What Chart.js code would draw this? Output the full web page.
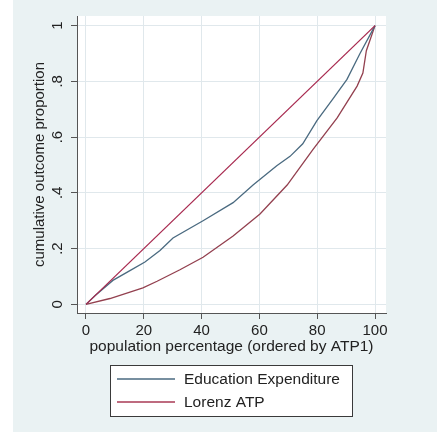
<!DOCTYPE html>
<html>
<head>
<meta charset="utf-8">
<script src="https://cdn.jsdelivr.net/npm/chart.js@4/dist/chart.umd.min.js"></script>
<style>
  html, body { margin: 0; padding: 0; background: #ffffff; }
  canvas { display: block; }
</style>
</head>
<body>
<canvas id="c" width="437" height="432"></canvas>
<script>
// ---- data ----
const eduX = [0, 3.1, 9.3, 15.2, 20.4, 25.6, 30.1, 40.5, 50.9, 57.8, 66, 70.6, 75, 79.9, 85.5, 90.3, 94.8, 100];
const eduY = [0, 0.031, 0.086, 0.121, 0.152, 0.193, 0.238, 0.30, 0.365, 0.428, 0.497, 0.531, 0.576, 0.659, 0.738, 0.807, 0.90, 1];

const atpX = [0, 8.3, 19.7, 24.6, 32.5, 40.5, 50.9, 60.2, 69.6, 78.5, 86.9, 93.8, 95.8, 97, 100];
const atpY = [0, 0.021, 0.059, 0.083, 0.124, 0.169, 0.245, 0.324, 0.428, 0.555, 0.669, 0.783, 0.83, 0.91, 1];

const eqX = [0, 100];
const eqY = [0, 1];

const xTickValues = [0, 20, 40, 60, 80, 100];
const xTickLabels = ['0', '20', '40', '60', '80', '100'];
const yTickValues = [0, 0.2, 0.4, 0.6, 0.8, 1];
const yTickLabels = ['0', '.2', '.4', '.6', '.8', '1'];

const seriesNames = ['Education Expenditure', 'Lorenz ATP'];
const xTitle = 'population percentage (ordered by ATP1)';
const yTitle = 'cumulative outcome proportion';

// ---- styles ----
const FONT = "'Liberation Sans', Arial, sans-serif";
const C_EDU = '#4a6a80';
const C_ATP = '#93404f';
const C_EQ = '#a8294f';
const C_LEG_ATP = '#a83a55';
const BG = '#eaf2f3';
const GRID = '#e0e8ec';

function pts(xs, ys) { return xs.map((x, i) => ({ x: x, y: ys[i] })); }

const bgPlugin = {
  id: 'bg',
  beforeDraw(chart) {
    const ctx = chart.ctx, a = chart.chartArea;
    ctx.save();
    ctx.fillStyle = '#ffffff';
    ctx.fillRect(0, 0, chart.width, chart.height);
    ctx.fillStyle = BG;
    ctx.fillRect(13, 0, chart.width - 13, chart.height);
    ctx.fillStyle = '#ffffff';
    ctx.fillRect(a.left, a.top, a.right - a.left, a.bottom - a.top);
    ctx.restore();
  }
};

const legendPlugin = {
  id: 'boxLegend',
  afterDraw(chart) {
    const ctx = chart.ctx;
    const bx = 110.5, by = 365.5, bw = 242, bh = 51;
    ctx.save();
    ctx.fillStyle = '#ffffff';
    ctx.fillRect(bx, by, bw, bh);
    ctx.strokeStyle = '#3a3a3a';
    ctx.lineWidth = 1;
    ctx.strokeRect(bx, by, bw, bh);
    const rows = [
      { name: seriesNames[0], color: C_EDU, y: 379 },
      { name: seriesNames[1], color: C_LEG_ATP, y: 402 }
    ];
    rows.forEach(r => {
      ctx.strokeStyle = r.color;
      ctx.lineWidth = 1.3;
      ctx.beginPath();
      ctx.moveTo(117, r.y);
      ctx.lineTo(175, r.y);
      ctx.stroke();
      ctx.fillStyle = '#222222';
      ctx.font = '15.5px ' + FONT;
      ctx.textBaseline = 'middle';
      ctx.textAlign = 'left';
      ctx.fillText(r.name, 184, r.y + 1);
    });
    ctx.restore();
  }
};

new Chart(document.getElementById('c'), {
  type: 'scatter',
  data: {
    datasets: [
      { label: 'Equality', data: pts(eqX, eqY), showLine: true, borderColor: C_EQ, borderWidth: 1.3, pointRadius: 0, tension: 0 },
      { label: seriesNames[0], data: pts(eduX, eduY), showLine: true, borderColor: C_EDU, borderWidth: 1.3, pointRadius: 0, tension: 0 },
      { label: seriesNames[1], data: pts(atpX, atpY), showLine: true, borderColor: C_ATP, borderWidth: 1.3, pointRadius: 0, tension: 0 }
    ]
  },
  options: {
    responsive: false,
    animation: false,
    devicePixelRatio: 1,
    layout: { padding: { left: 13, top: 4, right: 51, bottom: 75 } },
    plugins: { legend: { display: false }, tooltip: { enabled: false } },
    scales: {
      x: {
        type: 'linear',
        min: -3.11,
        max: 103.8,
        afterBuildTicks(scale) { scale.ticks = xTickValues.map(v => ({ value: v })); },
        afterFit(scale) { scale.height = 44; },
        ticks: {
          callback(v) { const i = xTickValues.indexOf(v); return i >= 0 ? xTickLabels[i] : ''; },
          font: { family: FONT, size: 15 },
          color: '#222222',
          padding: 3,
          maxRotation: 0,
          autoSkip: false
        },
        grid: { color: GRID, lineWidth: 1, tickColor: '#555555', tickLength: 6 },
        border: { display: true, color: '#555555', width: 1 },
        title: { display: true, text: xTitle, font: { family: FONT, size: 15.5 }, color: '#222222', padding: { top: 0, bottom: 1 } }
      },
      y: {
        type: 'linear',
        min: -0.031,
        max: 1.0345,
        afterBuildTicks(scale) { scale.ticks = yTickValues.map(v => ({ value: v })); },
        afterFit(scale) { scale.width = 64; },
        ticks: {
          callback(v) { const i = yTickValues.findIndex(t => Math.abs(t - v) < 1e-9); return i >= 0 ? yTickLabels[i] : ''; },
          font: { family: FONT, size: 15 },
          color: '#222222',
          padding: 7,
          minRotation: 90,
          maxRotation: 90,
          crossAlign: 'center',
          autoSkip: false
        },
        grid: { color: GRID, lineWidth: 1, tickColor: '#555555', tickLength: 6 },
        border: { display: true, color: '#555555', width: 1 },
        title: { display: true, text: yTitle, font: { family: FONT, size: 15 }, color: '#222222', padding: { top: 18, bottom: 0 } }
      }
    }
  },
  plugins: [bgPlugin, legendPlugin]
});
</script>
</body>
</html>
